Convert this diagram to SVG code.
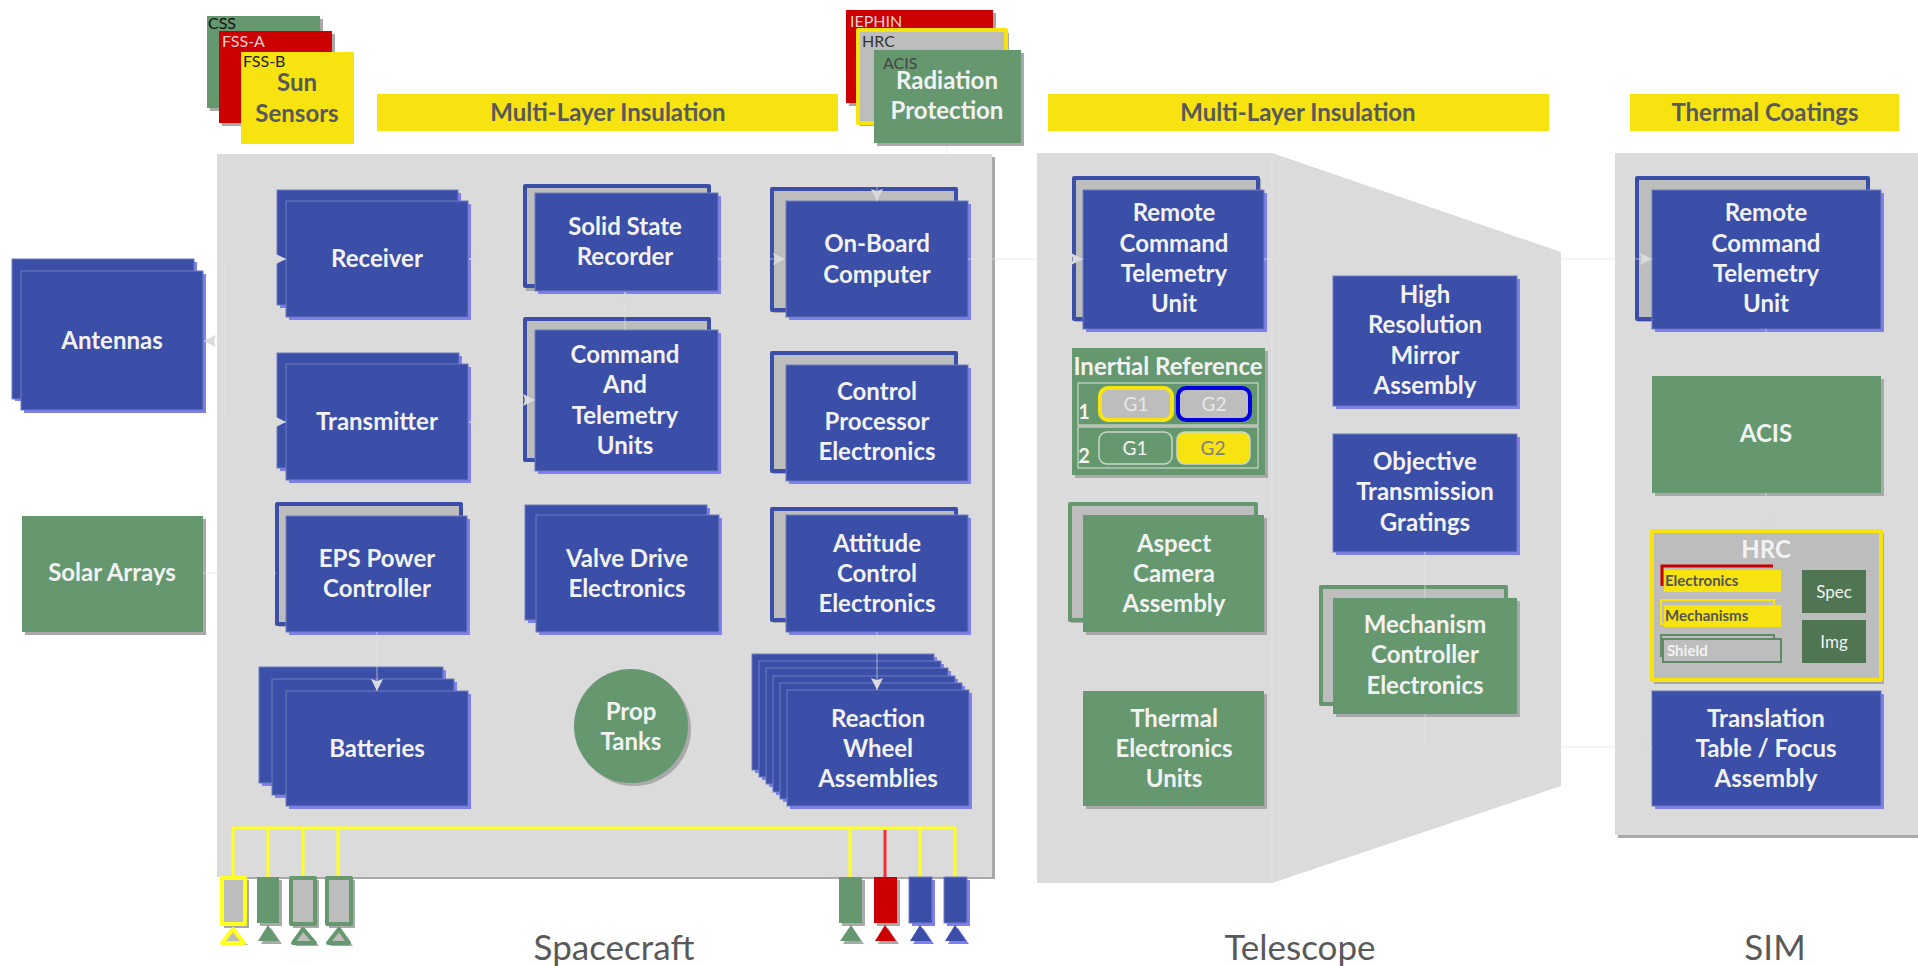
<svg xmlns="http://www.w3.org/2000/svg" width="1918" height="966" viewBox="0 0 1918 966">
<defs>
<marker id="ah" markerWidth="13" markerHeight="14" refX="12" refY="7" orient="auto" markerUnits="userSpaceOnUse"><path d="M0 1L12 7L0 13L2 7Z" fill="#dadada"/></marker>
</defs>
<style>
text{font-family:Lato,"Liberation Sans",sans-serif}
.t{font-size:24px;font-weight:700;fill:#f2f2f2;text-anchor:middle}
.d{font-size:24px;font-weight:700;fill:#595959;text-anchor:middle}
.s{font-size:16px;font-weight:400}
.big{font-size:35px;font-weight:400;fill:#595959;text-anchor:middle}
.bg{fill:#dbdbdb}
.b{fill:#3b4ea8;stroke:#6f7cc0;stroke-width:1}
.bs{fill:#7f7ff0}
.g{fill:#66986f}
.gs{fill:#a9a9a9}
.y{fill:#f6e30f}
.r{fill:#cc0000}
.o{fill:#bdbdbd;stroke:#3b4ea8;stroke-width:4;stroke-linejoin:round}
.og{fill:#bdbdbd;stroke:#66986f;stroke-width:4;stroke-linejoin:round}
.oy{fill:#bdbdbd;stroke:#f6e30f;stroke-width:4;stroke-linejoin:round}
.c{fill:none;stroke:#e4e4e4;stroke-width:1;stroke-opacity:.65}
.yl{fill:none;stroke:#ffff20;stroke-width:3}
.rl{fill:none;stroke:#f03030;stroke-width:3}
.cell{fill:none;stroke:#c8d8ca;stroke-width:1.2}
</style>
<rect width="1918" height="966" fill="#fff"/>

<g id="panels">
<rect x="220" y="157" width="775" height="722" class="gs"/>
<rect x="217" y="154" width="775" height="723" class="bg"/>
<path d="M1037 153H1272L1561 252V786L1272 883H1037Z" class="bg"/>
<path d="M1272 153V883" stroke="#e2e2e2" stroke-width="1" fill="none"/>
<rect x="1618" y="156" width="300" height="682" class="gs"/>
<rect x="1615" y="153" width="303" height="682" class="bg"/>
</g>

<g id="bar-mli-1"><rect x="377" y="94" width="461" height="37" class="y"/><text x="608" y="121" class="d">Multi-Layer Insulation</text></g>
<g id="bar-mli-2"><rect x="1048" y="94" width="501" height="37" class="y"/><text x="1298" y="121" class="d">Multi-Layer Insulation</text></g>
<g id="bar-coatings"><rect x="1630" y="94" width="269" height="37" class="y"/><text x="1765" y="121" class="d">Thermal Coatings</text></g>

<g id="sun-sensors">
<rect x="210" y="19" width="113" height="92" class="gs"/><rect x="207" y="16" width="113" height="92" class="g"/>
<text x="208" y="29" class="s" fill="#111">CSS</text>
<rect x="222" y="34" width="113" height="92" class="gs"/><rect x="219" y="31" width="113" height="92" class="r"/>
<text x="222" y="47" class="s" fill="#f0d0d0">FSS-A</text>
<rect x="241" y="52" width="113" height="92" class="y"/>
<text x="243" y="67" class="s" fill="#222">FSS-B</text>
<text x="297" y="91" class="d">Sun</text><text x="297" y="122" class="d">Sensors</text>
</g>

<g id="radiation-protection">
<rect x="849" y="13" width="147" height="93" class="gs"/><rect x="846" y="10" width="147" height="93" class="r"/>
<text x="850" y="27" class="s" fill="#f0d0d0">IEPHIN</text>
<rect x="860" y="33" width="149" height="93" class="gs"/><rect x="858" y="30" width="148" height="93" class="oy"/>
<text x="862" y="47" class="s" font-weight="700" fill="#333">HRC</text>
<rect x="877" y="53" width="147" height="93" class="gs"/><rect x="874" y="50" width="147" height="93" class="g"/>
<text x="883" y="69" class="s" fill="#444">ACIS</text>
<text x="947" y="89" class="t">Radiation</text><text x="947" y="119" class="t">Protection</text>
</g>

<g id="antennas">
<rect x="15" y="262" width="182" height="139" class="bs"/><rect x="12" y="259" width="182" height="140" class="b"/>
<rect x="24" y="274" width="182" height="139" class="bs"/><rect x="21" y="271" width="182" height="139" class="b"/>
<text x="112" y="349" class="t">Antennas</text>
</g>
<g id="solar-arrays">
<rect x="25" y="519" width="181" height="116" class="gs"/><rect x="22" y="516" width="181" height="116" class="g"/>
<text x="112" y="581" class="t">Solar Arrays</text>
</g>

<g id="receiver">
<rect x="280" y="193" width="181" height="115" class="bs"/><rect x="277" y="190" width="181" height="115" class="b"/>
<rect x="289" y="204" width="182" height="116" class="bs"/><rect x="286" y="201" width="182" height="116" class="b"/>
<text x="377" y="267" class="t">Receiver</text>
</g>
<g id="transmitter">
<rect x="280" y="356" width="182" height="115" class="bs"/><rect x="277" y="353" width="182" height="115" class="b"/>
<rect x="289" y="367" width="182" height="116" class="bs"/><rect x="286" y="364" width="182" height="116" class="b"/>
<text x="377" y="430" class="t">Transmitter</text>
</g>
<g id="eps-power">
<rect x="279" y="507" width="184" height="120" class="gs"/><rect x="277" y="504" width="184" height="120" class="o"/>
<rect x="289" y="519" width="181" height="116" class="bs"/><rect x="286" y="516" width="181" height="116" class="b"/>
<text x="377" y="567" class="t">EPS Power</text><text x="377" y="597" class="t">Controller</text>
</g>
<g id="batteries">
<rect x="262" y="670" width="184" height="116" class="bs"/><rect x="259" y="667" width="184" height="116" class="b"/>
<rect x="275" y="682" width="182" height="116" class="bs"/><rect x="272" y="679" width="182" height="116" class="b"/>
<rect x="289" y="694" width="182" height="115" class="bs"/><rect x="286" y="691" width="182" height="115" class="b"/>
<text x="377" y="757" class="t">Batteries</text>
</g>

<g id="solid-state-recorder">
<rect x="526" y="188" width="185" height="103" class="gs"/><rect x="525" y="186" width="184" height="100" class="o"/>
<rect x="538" y="196" width="183" height="98" class="bs"/><rect x="535" y="193" width="183" height="98" class="b"/>
<text x="625" y="235" class="t">Solid State</text><text x="625" y="265" class="t">Recorder</text>
</g>
<g id="command-telemetry">
<rect x="526" y="321" width="185" height="141" class="gs"/><rect x="525" y="319" width="184" height="141" class="o"/>
<rect x="538" y="333" width="183" height="141" class="bs"/><rect x="535" y="330" width="183" height="141" class="b"/>
<text x="625" y="363" class="t">Command</text><text x="625" y="393" class="t">And</text><text x="625" y="424" class="t">Telemetry</text><text x="625" y="454" class="t">Units</text>
</g>
<g id="valve-drive">
<rect x="528" y="508" width="182" height="115" class="bs"/><rect x="525" y="505" width="182" height="115" class="b"/>
<rect x="539" y="518" width="183" height="117" class="bs"/><rect x="536" y="515" width="183" height="117" class="b"/>
<text x="627" y="567" class="t">Valve Drive</text><text x="627" y="597" class="t">Electronics</text>
</g>
<g id="prop-tanks">
<circle cx="634" cy="729" r="57" class="gs"/><circle cx="631" cy="726" r="57" class="g"/>
<text x="631" y="720" class="t">Prop</text><text x="631" y="750" class="t">Tanks</text>
</g>

<g id="on-board-computer">
<rect x="773" y="191" width="185" height="122" class="gs"/><rect x="772" y="189" width="184" height="121" class="o"/>
<rect x="789" y="204" width="182" height="116" class="bs"/><rect x="786" y="201" width="182" height="116" class="b"/>
<text x="877" y="252" class="t">On-Board</text><text x="877" y="283" class="t">Computer</text>
</g>
<g id="control-processor">
<rect x="773" y="355" width="185" height="119" class="gs"/><rect x="772" y="353" width="184" height="118" class="o"/>
<rect x="789" y="368" width="182" height="116" class="bs"/><rect x="786" y="365" width="182" height="116" class="b"/>
<text x="877" y="400" class="t">Control</text><text x="877" y="430" class="t">Processor</text><text x="877" y="460" class="t">Electronics</text>
</g>
<g id="attitude-control">
<rect x="773" y="511" width="185" height="112" class="gs"/><rect x="772" y="509" width="184" height="111" class="o"/>
<rect x="789" y="518" width="182" height="117" class="bs"/><rect x="786" y="515" width="182" height="117" class="b"/>
<text x="877" y="552" class="t">Attitude</text><text x="877" y="582" class="t">Control</text><text x="877" y="612" class="t">Electronics</text>
</g>
<g id="reaction-wheels">
<rect x="755" y="657" width="182" height="116" class="bs"/><rect x="752" y="654" width="182" height="116" class="b"/>
<rect x="762" y="664" width="182" height="116" class="bs"/><rect x="759" y="661" width="182" height="116" class="b"/>
<rect x="769" y="671" width="182" height="116" class="bs"/><rect x="766" y="668" width="182" height="116" class="b"/>
<rect x="776" y="679" width="182" height="116" class="bs"/><rect x="773" y="676" width="182" height="116" class="b"/>
<rect x="783" y="686" width="182" height="116" class="bs"/><rect x="780" y="683" width="182" height="116" class="b"/>
<rect x="790" y="693" width="182" height="116" class="bs"/><rect x="787" y="690" width="182" height="116" class="b"/>
<text x="878" y="727" class="t">Reaction</text><text x="878" y="757" class="t">Wheel</text><text x="878" y="787" class="t">Assemblies</text>
</g>

<g id="thrusters-bus">
<path class="yl" d="M233 876V828H955V877M268 828V877M303 828V877M338 828V877M850 828V877M920 828V877"/>
<path class="rl" d="M885 830V877"/>
</g>
<g id="thruster-1"><rect x="224" y="880" width="25" height="48" class="gs"/><path d="M235 931L224 945H248Z" class="gs"/><rect x="222" y="878" width="23" height="46" class="oy" style="stroke:#ffff20"/><path d="M233 929L222 943H244Z" fill="#bdbdbd" stroke="#ffff20" stroke-width="4" stroke-linejoin="round"/></g>
<g id="thruster-2"><rect x="260" y="880" width="22" height="46" class="gs"/><path d="M271 928L261 944H282Z" class="gs"/><rect x="257" y="877" width="22" height="46" class="g"/><path d="M268 925L258 941H279Z" class="g"/></g>
<g id="thruster-3"><rect x="293" y="880" width="26" height="48" class="gs"/><path d="M305 931L295 946H319Z" class="gs"/><rect x="291" y="878" width="24" height="46" class="og"/><path d="M303 929L293 943H315Z" fill="#bdbdbd" stroke="#66986f" stroke-width="4" stroke-linejoin="round"/></g>
<g id="thruster-4"><rect x="329" y="880" width="26" height="48" class="gs"/><path d="M341 931L330 946H353Z" class="gs"/><rect x="327" y="878" width="24" height="46" class="og"/><path d="M339 929L328 943H349Z" fill="#bdbdbd" stroke="#66986f" stroke-width="4" stroke-linejoin="round"/></g>
<g id="thruster-5"><rect x="842" y="880" width="23" height="46" class="gs"/><path d="M853 928L843 944H864Z" class="gs"/><rect x="839" y="877" width="23" height="46" class="g"/><path d="M851 925L840 941H861Z" class="g"/></g>
<g id="thruster-6"><rect x="877" y="880" width="23" height="46" class="gs"/><path d="M888 928L878 944H899Z" class="gs"/><rect x="874" y="877" width="23" height="46" class="r"/><path d="M885 925L875 941H896Z" class="r"/></g>
<g id="thruster-7"><rect x="912" y="880" width="23" height="46" class="bs"/><path d="M923 928L913 944H934Z" class="bs"/><rect x="909" y="877" width="23" height="46" class="b"/><path d="M920 925L910 941H931Z" fill="#3b4ea8"/></g>
<g id="thruster-8"><rect x="947" y="880" width="23" height="46" class="bs"/><path d="M958 928L948 944H969Z" class="bs"/><rect x="944" y="877" width="23" height="46" class="b"/><path d="M955 925L945 941H966Z" fill="#3b4ea8"/></g>

<g id="rctu-telescope">
<rect x="1075" y="179" width="186" height="143" class="gs"/><rect x="1074" y="178" width="184" height="141" class="o"/>
<rect x="1086" y="193" width="181" height="139" class="bs"/><rect x="1083" y="190" width="181" height="139" class="b"/>
<text x="1174" y="221" class="t">Remote</text><text x="1174" y="252" class="t">Command</text><text x="1174" y="282" class="t">Telemetry</text><text x="1174" y="312" class="t">Unit</text>
</g>
<g id="inertial-reference">
<rect x="1075" y="351" width="193" height="127" class="gs"/><rect x="1072" y="348" width="193" height="127" class="g"/>
<text x="1168" y="375" class="t">Inertial Reference</text>
<rect x="1078" y="383" width="180" height="42" class="cell"/><rect x="1078" y="427" width="180" height="41" class="cell"/>
<path d="M1078 426H1258" stroke="#bdbdbd" stroke-width="2"/>
<rect x="1100" y="388" width="72" height="32" rx="8" fill="#bdbdbd" stroke="#f6e30f" stroke-width="4"/>
<rect x="1178" y="388" width="72" height="32" rx="8" fill="#bdbdbd" stroke="#0000e0" stroke-width="4"/>
<rect x="1099" y="432" width="73" height="32" rx="8" class="g" stroke="#c8d8ca" stroke-width="1.5"/>
<rect x="1177" y="432" width="73" height="32" rx="8" class="y" stroke="#c8d8ca" stroke-width="1.5"/>
<text x="1136" y="411" font-size="19" fill="#e8e8e8" text-anchor="middle">G1</text>
<text x="1214" y="411" font-size="19" fill="#e8e8e8" text-anchor="middle">G2</text>
<text x="1135" y="455" font-size="19" fill="#f2f2f2" text-anchor="middle">G1</text>
<text x="1213" y="455" font-size="19" fill="#808080" text-anchor="middle">G2</text>
<text x="1084" y="419" font-size="20" font-weight="700" fill="#f2f2f2" text-anchor="middle">1</text>
<text x="1084" y="463" font-size="20" font-weight="700" fill="#f2f2f2" text-anchor="middle">2</text>
</g>
<g id="aspect-camera">
<rect x="1071" y="505" width="187" height="118" class="gs"/><rect x="1070" y="504" width="186" height="116" class="og"/>
<rect x="1086" y="518" width="181" height="117" class="gs"/><rect x="1083" y="515" width="181" height="117" class="g"/>
<text x="1174" y="552" class="t">Aspect</text><text x="1174" y="582" class="t">Camera</text><text x="1174" y="612" class="t">Assembly</text>
</g>
<g id="thermal-electronics">
<rect x="1086" y="694" width="181" height="115" class="gs"/><rect x="1083" y="691" width="181" height="115" class="g"/>
<text x="1174" y="727" class="t">Thermal</text><text x="1174" y="757" class="t">Electronics</text><text x="1174" y="787" class="t">Units</text>
</g>
<g id="hrma">
<rect x="1336" y="279" width="184" height="130" class="bs"/><rect x="1333" y="276" width="184" height="130" class="b"/>
<text x="1425" y="303" class="t">High</text><text x="1425" y="333" class="t">Resolution</text><text x="1425" y="364" class="t">Mirror</text><text x="1425" y="394" class="t">Assembly</text>
</g>
<g id="otg">
<rect x="1336" y="437" width="184" height="118" class="bs"/><rect x="1333" y="434" width="184" height="118" class="b"/>
<text x="1425" y="470" class="t">Objective</text><text x="1425" y="500" class="t">Transmission</text><text x="1425" y="531" class="t">Gratings</text>
</g>
<g id="mechanism-controller">
<rect x="1322" y="588" width="186" height="118" class="gs"/><rect x="1321" y="587" width="185" height="117" class="og"/>
<rect x="1336" y="601" width="184" height="116" class="gs"/><rect x="1333" y="598" width="184" height="116" class="g"/>
<text x="1425" y="633" class="t">Mechanism</text><text x="1425" y="663" class="t">Controller</text><text x="1425" y="694" class="t">Electronics</text>
</g>

<g id="rctu-sim">
<rect x="1638" y="179" width="232" height="143" class="gs"/><rect x="1637" y="178" width="231" height="141" class="o"/>
<rect x="1655" y="193" width="229" height="139" class="bs"/><rect x="1652" y="190" width="229" height="139" class="b"/>
<text x="1766" y="221" class="t">Remote</text><text x="1766" y="252" class="t">Command</text><text x="1766" y="282" class="t">Telemetry</text><text x="1766" y="312" class="t">Unit</text>
</g>
<g id="acis">
<rect x="1655" y="379" width="229" height="117" class="gs"/><rect x="1652" y="376" width="229" height="117" class="g"/>
<text x="1766" y="442" class="t">ACIS</text>
</g>
<g id="hrc">
<rect x="1654" y="533" width="230" height="151" class="gs"/><rect x="1652" y="531" width="229" height="149" class="oy"/>
<text x="1766" y="558" class="t">HRC</text>
<path d="M1662 586V566H1773" fill="none" stroke="#cc0000" stroke-width="3"/>
<rect x="1664" y="570" width="117" height="22" class="y"/>
<text x="1665" y="586" font-size="15" font-weight="700" fill="#555">Electronics</text>
<rect x="1661" y="600" width="113" height="24" fill="none" stroke="#f6e30f" stroke-width="2"/>
<rect x="1664" y="605" width="117" height="22" class="y"/>
<text x="1665" y="621" font-size="15" font-weight="700" fill="#555">Mechanisms</text>
<rect x="1661" y="635" width="113" height="21" fill="#bdbdbd" stroke="#5f8a66" stroke-width="2"/>
<rect x="1663" y="639" width="118" height="23" fill="#bdbdbd" stroke="#5f8a66" stroke-width="2"/>
<text x="1667" y="656" font-size="15" font-weight="700" fill="#f2f2f2">Shield</text>
<rect x="1802" y="570" width="64" height="43" fill="#4f7553"/>
<text x="1834" y="598" font-size="17" fill="#f2f2f2" text-anchor="middle">Spec</text>
<rect x="1802" y="620" width="64" height="43" fill="#4f7553"/>
<text x="1834" y="648" font-size="17" fill="#f2f2f2" text-anchor="middle">Img</text>
</g>
<g id="translation-table">
<rect x="1655" y="694" width="229" height="115" class="bs"/><rect x="1652" y="691" width="229" height="115" class="b"/>
<text x="1766" y="727" class="t">Translation</text><text x="1766" y="757" class="t">Table / Focus</text><text x="1766" y="787" class="t">Assembly</text>
</g>

<g id="section-labels">
<text x="614" y="960" class="big">Spacecraft</text>
<text x="1300" y="960" class="big">Telescope</text>
<text x="1775" y="960" class="big">SIM</text>
</g>

<g id="connectors">
<path class="c" d="M225 259H286" marker-end="url(#ah)"/>
<path class="c" d="M225 422H286" marker-end="url(#ah)"/>
<path class="c" d="M225 259V422"/>
<path class="c" d="M490 259V421"/>
<path class="c" d="M490 259H469" marker-end="url(#ah)"/>
<path class="c" d="M490 422H469" marker-end="url(#ah)"/>
<path class="c" d="M225 341H204" marker-end="url(#ah)"/>
<path class="c" d="M625 330V292" marker-end="url(#ah)"/>
<path class="c" d="M490 400H535" marker-end="url(#ah)"/>
<path class="c" d="M718 259H785" marker-end="url(#ah)"/>
<path class="c" d="M947 146V165"/>
<path class="c" d="M877 154V201" marker-end="url(#ah)"/>
<path class="c" d="M968 259H1083" marker-end="url(#ah)"/>
<path class="c" d="M1264 259H1652" marker-end="url(#ah)"/>
<path class="c" d="M203 573H276"/>
<path class="c" d="M377 632V691" marker-end="url(#ah)"/>
<path class="c" d="M877 632V690" marker-end="url(#ah)"/>
<path class="c" d="M627 806V828"/>
<path class="c" d="M1425 552V598"/>
<path class="c" d="M1425 714V747H1652" marker-end="url(#ah)"/>
<path class="c" d="M1766 329V376"/>
<path class="c" d="M1766 493V530" marker-end="url(#ah)"/>
</g>
</svg>
